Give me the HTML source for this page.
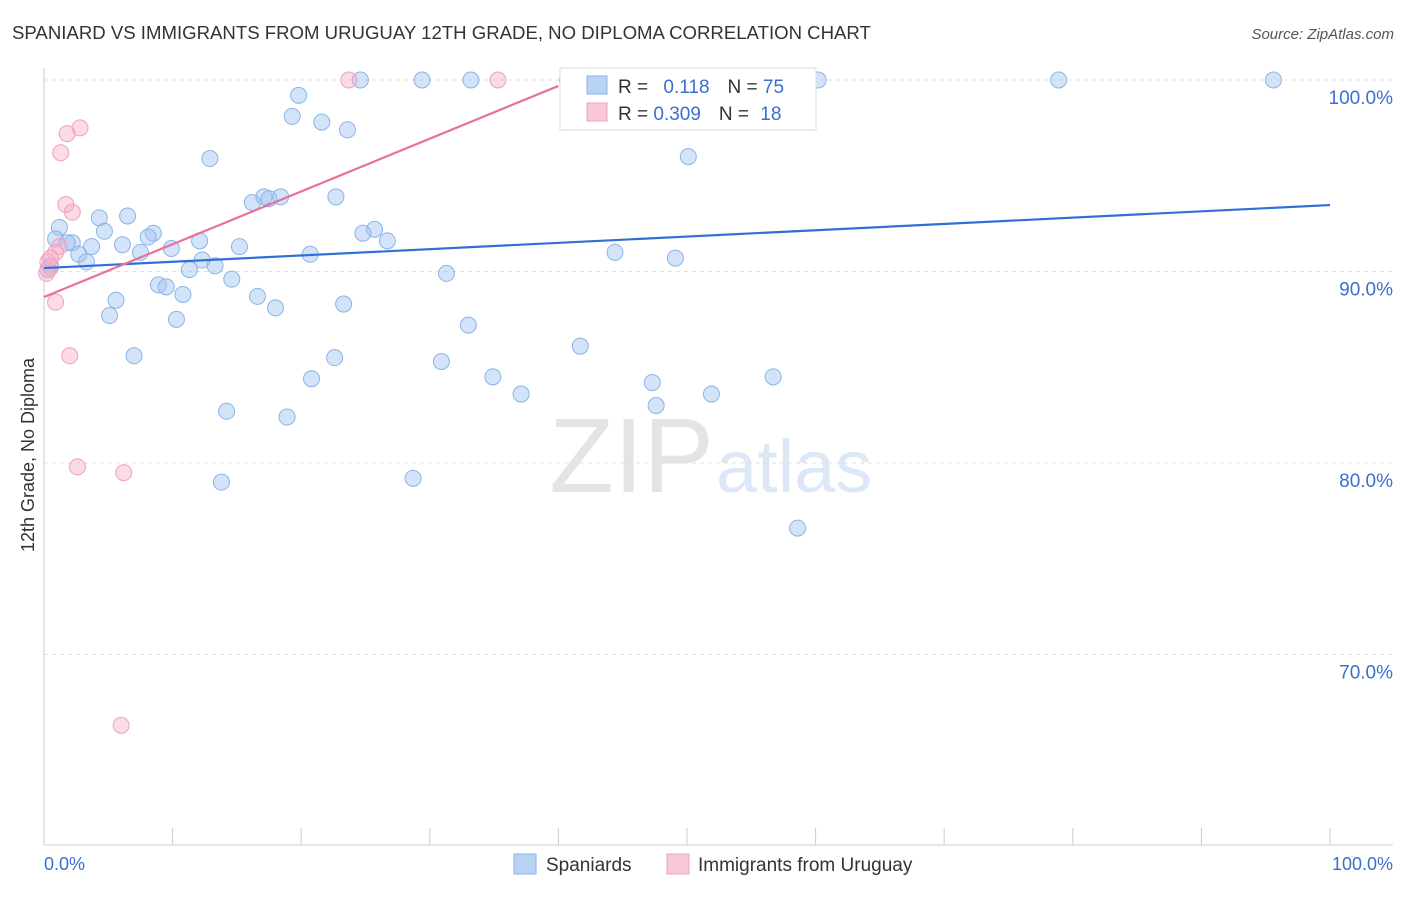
<!DOCTYPE html>
<html><head><meta charset="utf-8"><style>
body{margin:0;background:#fff;font-family:"Liberation Sans",sans-serif}
svg text{font-family:"Liberation Sans",sans-serif}
</style></head><body>
<svg id="chart" width="1406" height="892" xmlns="http://www.w3.org/2000/svg">
<text x="12" y="39" font-size="18.6" fill="#333">SPANIARD VS IMMIGRANTS FROM URUGUAY 12TH GRADE, NO DIPLOMA CORRELATION CHART</text>
<text x="1394" y="39" font-size="15" fill="#555" text-anchor="end" font-style="italic">Source: ZipAtlas.com</text>
<text x="714" y="492" font-size="106" fill="#e4e4e4" text-anchor="end" font-family="Liberation Serif">ZIP</text>
<text x="716" y="492" font-size="74" fill="#dde8f6">atlas</text>
<g id="grid"></g><g id="axes"></g><g id="pts"></g><g id="lines"></g>
<text transform="translate(34,455) rotate(-90)" font-size="18" fill="#333" text-anchor="middle">12th Grade, No Diploma</text>
<g>
<rect x="560" y="68" width="256" height="62" fill="#fff" stroke="#ddd"/>
<rect x="587" y="76" width="20" height="18" fill="#b9d3f5" stroke="#8ab4e8"/>
<rect x="587" y="103" width="20" height="18" fill="#f9c8d8" stroke="#f0a0bc"/>
<text x="618" y="93" font-size="19" fill="#333">R = <tspan fill="#3a6fd0" dx="10">0.118</tspan><tspan fill="#333" dx="18">N = </tspan><tspan fill="#3a6fd0">75</tspan></text>
<text x="618" y="120" font-size="19" fill="#333">R = <tspan fill="#3a6fd0">0.309</tspan><tspan fill="#333" dx="18">N = </tspan><tspan fill="#3a6fd0" dx="6">18</tspan></text>
</g>
<g>
<rect x="514" y="854" width="22" height="20" fill="#b9d3f5" stroke="#8ab4e8"/>
<text x="546" y="871" font-size="19" fill="#333">Spaniards</text>
<rect x="667" y="854" width="22" height="20" fill="#f9c8d8" stroke="#f0a0bc"/>
<text x="698" y="871" font-size="19" fill="#333">Immigrants from Uruguay</text>
</g>
</svg>
<script>
const blueX=[24.6,29.4,33.2,40.7,45.4,49.4,60.2,78.9,95.6,19.8,19.3,21.6,23.6,12.9,50.1,16.2,17.1,17.5,18.4,22.7,4.3,6.5,1.2,4.7,8.5,8.1,0.9,2.2,1.8,3.7,6.1,12.1,15.2,9.9,7.5,2.7,3.3,20.7,25.7,24.8,26.7,44.4,49.1,12.3,13.3,11.3,31.3,14.6,8.9,9.5,10.8,16.6,5.6,23.3,18.0,5.1,10.3,33.0,7.0,22.6,30.9,41.7,20.8,34.9,47.3,56.7,37.1,51.9,47.6,14.2,18.9,13.8,28.7,58.6,0.5,0.3];
const blueY=[100,100,100,100,100,100,100,100,100,99.2,98.1,97.8,97.4,95.9,96.0,93.6,93.9,93.8,93.9,93.9,92.8,92.9,92.3,92.1,92.0,91.8,91.7,91.5,91.5,91.3,91.4,91.6,91.3,91.2,91.0,90.9,90.5,90.9,92.2,92.0,91.6,91.0,90.7,90.6,90.3,90.1,89.9,89.6,89.3,89.2,88.8,88.7,88.5,88.3,88.1,87.7,87.5,87.2,85.6,85.5,85.3,86.1,84.4,84.5,84.2,84.5,83.6,83.6,83.0,82.7,82.4,79.0,79.2,76.6,90.3,90.1];
const pinkX=[23.7,35.3,2.8,1.8,1.3,1.7,2.2,1.2,0.9,0.3,0.5,0.2,0.9,2.0,2.6,6.2,6.0,0.5];
const pinkY=[100,100,97.5,97.2,96.2,93.5,93.1,91.3,91.0,90.5,90.2,89.9,88.4,85.6,79.8,79.5,66.3,90.7];
const blueTrend=[[0,90.18],[100,93.47]];
const pinkTrend=[[0,88.67],[40,99.69]];
const yTicks=[100,90,80,70];
const yTickLabels=["100.0%","90.0%","80.0%","70.0%"];
const xTicks=[0,10,20,30,40,50,60,70,80,90,100];
const NS="http://www.w3.org/2000/svg";
const sx=v=>44+v*12.86, sy=v=>80+(100-v)*19.15;
function mk(p,t,a){const e=document.createElementNS(NS,t);for(const k in a)e.setAttribute(k,a[k]);document.getElementById(p).appendChild(e);return e;}
yTicks.forEach((t,i)=>{
 const l=mk('grid','line',{x1:44,x2:1393,y1:sy(t),y2:sy(t),stroke:'#e0e0e0','stroke-dasharray':'4,4'});
 
 
 const tx=mk('grid','text',{x:1393,y:sy(t)+24,'font-size':19,fill:'#3a6fd0','text-anchor':'end'});
 tx.textContent=yTickLabels[i];
 
 
});
const ax=mk('axes','line',{x1:44,x2:44,y1:68,y2:845,stroke:'#ccc'});


const bx=mk('axes','line',{x1:44,x2:1393,y1:845,y2:845,stroke:'#ccc'});


xTicks.forEach(t=>{const l=mk('axes','line',{x1:sx(t),x2:sx(t),y1:828,y2:845,stroke:'#ccc'});
 
 });
[[0,"0.0%","start",44],[100,"100.0%","end",1393]].forEach(d=>{const t=mk('axes','text',{x:d[3],y:870,'font-size':18,fill:'#3a6fd0','text-anchor':d[2]});t.textContent=d[1];
 
 });
blueX.forEach((x,i)=>{const c=mk('pts','circle',{cx:sx(x),cy:sy(blueY[i]),r:8,fill:'rgba(160,195,240,0.45)',stroke:'#8ab4e8','stroke-width':1});
 
 });
pinkX.forEach((x,i)=>{const c=mk('pts','circle',{cx:sx(x),cy:sy(pinkY[i]),r:8,fill:'rgba(245,175,200,0.45)',stroke:'#f0a0bc','stroke-width':1});
 
 });
const bl=mk('lines','line',{x1:sx(blueTrend[0][0]),y1:sy(blueTrend[0][1]),x2:sx(blueTrend[1][0]),y2:sy(blueTrend[1][1]),stroke:'#2f6fd6','stroke-width':2.2});


const pl=mk('lines','line',{x1:sx(pinkTrend[0][0]),y1:sy(pinkTrend[0][1]),x2:sx(pinkTrend[1][0]),y2:sy(pinkTrend[1][1]),stroke:'#e8709a','stroke-width':2.2});


</script>
</body></html>
